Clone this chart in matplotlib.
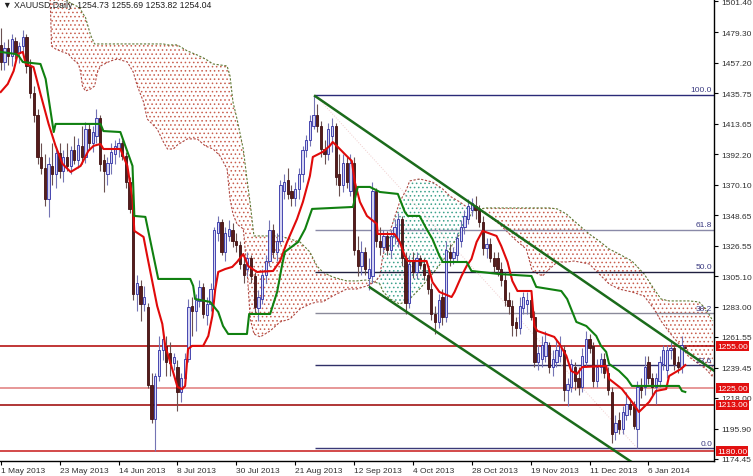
import numpy as np
import matplotlib
matplotlib.use("Agg")
import matplotlib.pyplot as plt

plt.rcParams['font.family'] = ['Liberation Sans', 'DejaVu Sans']
plt.rcParams['hatch.linewidth'] = 0.6

# ---- daily OHLC, one entry per trading day (bar 0 = 1 May 2013) ----
opens = [1470, 1458, 1468, 1462, 1473, 1464, 1469, 1476, 1455, 1436,
         1420, 1390, 1382, 1360, 1384, 1378, 1393, 1380, 1390, 1384,
         1395, 1388, 1398, 1390, 1410, 1400, 1405, 1418, 1388, 1378,
         1386, 1392, 1396, 1400, 1391, 1372, 1353, 1292, 1298, 1285,
         1283, 1227, 1203, 1234, 1252, 1255, 1250, 1243, 1240, 1222,
         1232, 1246, 1284, 1280, 1287, 1297, 1277, 1285, 1296, 1336,
         1344, 1322, 1334, 1338, 1330, 1327, 1314, 1310, 1318, 1305,
         1282, 1289, 1306, 1316, 1338, 1322, 1330, 1366, 1374, 1366,
         1361, 1367, 1378, 1395, 1402, 1412, 1420, 1412, 1396, 1392,
         1405, 1412, 1378, 1370, 1386, 1366, 1386, 1324, 1312, 1322,
         1304, 1305, 1366, 1330, 1326, 1334, 1324, 1334, 1330, 1346,
         1318, 1286, 1316, 1308, 1318, 1314, 1306, 1296, 1278, 1272,
         1290, 1276, 1322, 1318, 1320, 1330, 1340, 1346, 1352, 1355,
         1352, 1344, 1325, 1328, 1318, 1318, 1310, 1302, 1288, 1284,
         1272, 1268, 1282, 1285, 1288, 1276, 1244, 1246, 1248, 1256,
         1240, 1244, 1248, 1252, 1224, 1226, 1240, 1232, 1226, 1244,
         1260, 1255, 1230, 1240, 1246, 1236, 1222, 1194, 1202, 1196,
         1206, 1214, 1212, 1196, 1226, 1226, 1244, 1232, 1226, 1230,
         1242, 1238, 1252, 1254, 1244, 1240, 1254.73]
highs = [1482, 1472, 1474, 1478, 1476, 1472, 1481, 1478, 1460, 1441,
         1424, 1400, 1392, 1390, 1400, 1398, 1400, 1395, 1400, 1398,
         1405, 1404, 1412, 1415, 1414, 1412, 1424, 1420, 1392, 1390,
         1400, 1402, 1404, 1402, 1394, 1376, 1355, 1306, 1302, 1298,
         1286, 1236, 1236, 1262, 1266, 1262, 1258, 1250, 1245, 1236,
         1250, 1289, 1290, 1292, 1302, 1300, 1290, 1300, 1340, 1348,
         1346, 1340, 1345, 1343, 1336, 1330, 1320, 1322, 1320, 1308,
         1295, 1310, 1320, 1345, 1342, 1336, 1374, 1378, 1382, 1370,
         1372, 1382, 1398, 1406, 1420, 1434, 1428, 1416, 1402, 1414,
         1418, 1414, 1392, 1392, 1390, 1392, 1390, 1334, 1330, 1326,
         1318, 1372, 1368, 1340, 1338, 1337, 1338, 1346, 1350, 1348,
         1322, 1320, 1322, 1322, 1320, 1318, 1310, 1300, 1284, 1292,
         1296, 1330, 1328, 1326, 1336, 1345, 1352, 1360, 1361, 1362,
         1356, 1348, 1332, 1332, 1322, 1322, 1315, 1308, 1294, 1288,
         1276, 1290, 1294, 1294, 1290, 1280, 1256, 1262, 1266, 1258,
         1252, 1260, 1262, 1256, 1232, 1246, 1244, 1240, 1254, 1266,
         1264, 1258, 1246, 1250, 1250, 1240, 1226, 1206, 1208, 1212,
         1222, 1218, 1216, 1230, 1232, 1248, 1248, 1236, 1236, 1248,
         1256, 1256, 1258, 1256, 1248, 1262, 1255.69]
lows = [1452, 1452, 1456, 1455, 1460, 1457, 1465, 1450, 1432, 1415,
        1385, 1378, 1355, 1347, 1370, 1368, 1375, 1372, 1380, 1378,
        1385, 1382, 1385, 1386, 1395, 1394, 1400, 1380, 1365, 1370,
        1378, 1385, 1390, 1388, 1368, 1350, 1288, 1280, 1273, 1280,
        1225, 1200, 1180, 1230, 1245, 1234, 1234, 1238, 1209, 1215,
        1228, 1244, 1262, 1266, 1283, 1275, 1270, 1280, 1294, 1330,
        1320, 1316, 1330, 1326, 1322, 1310, 1300, 1305, 1300, 1278,
        1273, 1285, 1300, 1312, 1318, 1316, 1328, 1360, 1360, 1355,
        1355, 1360, 1372, 1390, 1398, 1410, 1408, 1390, 1385, 1388,
        1394, 1370, 1362, 1365, 1368, 1362, 1320, 1305, 1306, 1306,
        1295, 1300, 1326, 1320, 1322, 1320, 1318, 1328, 1326, 1312,
        1278, 1282, 1304, 1303, 1310, 1302, 1292, 1274, 1264, 1268,
        1270, 1272, 1312, 1314, 1316, 1326, 1335, 1342, 1348, 1346,
        1340, 1320, 1318, 1315, 1308, 1305, 1298, 1284, 1278, 1262,
        1262, 1264, 1278, 1278, 1274, 1240, 1238, 1240, 1244, 1236,
        1234, 1240, 1244, 1216, 1212, 1222, 1224, 1220, 1222, 1240,
        1250, 1226, 1226, 1236, 1232, 1220, 1186, 1188, 1192, 1192,
        1202, 1206, 1196, 1182, 1218, 1220, 1228, 1220, 1214, 1226,
        1238, 1232, 1246, 1238, 1236, 1236, 1253.82]
closes = [1458, 1468, 1462, 1474, 1464, 1469, 1476, 1455, 1436, 1420,
          1390, 1382, 1360, 1385, 1378, 1393, 1380, 1390, 1384, 1395,
          1388, 1399, 1390, 1410, 1400, 1408, 1418, 1385, 1380, 1386,
          1394, 1398, 1400, 1391, 1372, 1353, 1292, 1300, 1285, 1290,
          1227, 1203, 1234, 1252, 1260, 1244, 1243, 1247, 1222, 1232,
          1246, 1283, 1280, 1288, 1297, 1278, 1285, 1296, 1338, 1344,
          1322, 1336, 1339, 1330, 1327, 1314, 1306, 1318, 1305, 1283,
          1290, 1306, 1316, 1338, 1322, 1330, 1370, 1372, 1364, 1361,
          1367, 1378, 1395, 1402, 1416, 1420, 1412, 1396, 1392, 1410,
          1412, 1376, 1370, 1386, 1372, 1386, 1324, 1312, 1322, 1310,
          1310, 1366, 1330, 1326, 1334, 1324, 1334, 1340, 1346, 1318,
          1286, 1314, 1308, 1318, 1313, 1306, 1296, 1278, 1272, 1288,
          1276, 1324, 1318, 1322, 1332, 1340, 1348, 1355, 1357, 1352,
          1344, 1325, 1328, 1318, 1312, 1310, 1302, 1288, 1284, 1270,
          1268, 1284, 1290, 1288, 1276, 1244, 1250, 1256, 1258, 1240,
          1246, 1252, 1256, 1224, 1228, 1242, 1230, 1226, 1248, 1260,
          1254, 1230, 1240, 1246, 1236, 1224, 1192, 1200, 1196, 1208,
          1214, 1210, 1198, 1226, 1224, 1240, 1232, 1226, 1232, 1244,
          1252, 1252, 1254, 1242, 1240, 1256, 1254.04]

# ---- Ichimoku lines (bar, price) ----
tenkan_x = [0, 1.9, 3.5, 4.6, 6.0, 6.8, 8.9, 10.8, 13.0, 14.9, 16.8, 19.0, 21.7, 23.8,
            25.2, 27.1, 27.9, 32.5, 34.4, 35.8, 36.3, 38.8, 39.8, 42.5, 43.9, 44.7,
            46.6, 48.0, 49.3, 50.1, 50.9, 52.0, 55.0, 56.4, 57.5, 58.3, 59.1, 61.0,
            62.9, 64.2, 65.9, 67.2, 69.6, 74.0, 75.9, 77.8, 80.5, 82.1, 84.0, 84.8,
            87.5, 89.4, 90.2, 91.6, 94.0, 95.4, 96.2, 97.6, 99.5, 102.2, 102.4, 107.0,
            108.4, 109.8, 110.6, 115.7, 116.5, 117.3, 119.2, 122.5, 123.3, 125.2,
            126.6, 127.9, 129.3, 130.9, 134.7, 136.0, 137.7, 139.0, 140.4, 144.2,
            145.0, 145.8, 150.4, 151.8, 153.7, 155.0, 156.6, 158.0, 164.5, 165.3,
            168.8, 171.5, 173.4, 176.2, 178.0, 180.8, 181.6, 184.8, 186.0]
tenkan_y = [1436.5, 1442.2, 1451.5, 1463.6, 1465.1, 1456.5, 1454.3, 1435.1, 1413.7,
            1398.0, 1385.1, 1379.4, 1383.7, 1394.4, 1398.0, 1399.4, 1395.8, 1395.8,
            1383.7, 1360.1, 1337.3, 1333.0, 1319.4, 1283.7, 1270.9, 1255.2, 1238.7,
            1225.9, 1224.4, 1226.6, 1253.0, 1255.2, 1255.2, 1262.3, 1276.6, 1295.8,
            1308.0, 1310.1, 1311.6, 1315.1, 1320.8, 1312.3, 1308.0, 1308.7, 1315.8,
            1329.4, 1345.8, 1358.0, 1376.5, 1390.1, 1393.7, 1398.0, 1400.8, 1397.2,
            1390.8, 1387.2, 1372.2, 1358.0, 1348.0, 1342.3, 1335.1, 1335.1, 1329.4,
            1319.4, 1315.8, 1315.8, 1308.7, 1300.8, 1293.7, 1290.1, 1293.7, 1305.1,
            1312.3, 1317.3, 1329.4, 1337.3, 1333.7, 1326.5, 1315.1, 1301.6, 1294.4,
            1294.4, 1269.4, 1265.9, 1261.6, 1256.6, 1248.0, 1237.3, 1235.2, 1240.1,
            1240.9, 1231.6, 1224.4, 1215.2, 1208.0, 1215.2, 1223.0, 1224.4, 1233.7,
            1238.7, 1241.5]
kijun_x = [0, 4.1, 4.9, 6.0, 10.8, 12.2, 14.4, 14.9, 27.1, 27.9, 32.5, 35.8, 36.3,
           39.3, 42.8, 51.5, 52.3, 52.8, 56.9, 59.1, 60.4, 61.8, 66.9, 67.5, 73.2,
           75.1, 76.4, 77.2, 80.8, 82.7, 84.6, 95.7, 97.0, 100.3, 103.0, 107.9, 109.8,
           110.6, 113.8, 115.7, 117.3, 119.2, 120.1, 126.6, 127.9, 135.5, 144.2, 145.5,
           152.3, 153.9, 156.4, 159.1, 161.8, 163.1, 164.5, 165.3, 168.0, 170.2, 171.5,
           184.3, 185.1, 186.0]
kijun_y = [1465.1, 1463.6, 1462.2, 1457.9, 1456.5, 1445.8, 1407.9, 1413.7, 1413.7,
           1408.6, 1407.9, 1383.7, 1348.0, 1347.3, 1303.0, 1303.0, 1298.0, 1288.7,
           1286.6, 1279.4, 1269.4, 1263.7, 1263.7, 1278.0, 1278.0, 1293.7, 1312.3,
           1322.3, 1329.4, 1338.7, 1353.0, 1354.4, 1368.7, 1368.7, 1365.1, 1363.7,
           1350.8, 1348.0, 1348.0, 1338.7, 1331.5, 1319.4, 1315.1, 1315.1, 1308.7,
           1306.5, 1305.1, 1297.3, 1294.4, 1288.7, 1272.3, 1269.4, 1262.3, 1255.2,
           1250.9, 1242.3, 1237.3, 1231.6, 1226.6, 1226.6, 1223.0, 1222.3]

# ---- Ichimoku cloud (Senkou span A / B), shared bar positions ----
cloud_x = [13.3, 13.8, 14.9, 16.8, 18.4, 19.5, 21.1, 21.7, 22.2, 23.0,
           24.4, 25.5, 26.3, 27.1, 29.8, 31.7, 34.4, 36.0, 37.1, 38.8,
           39.8, 42.5, 44.2, 45.3, 46.9, 48.0, 50.7, 53.4, 55.6, 57.7,
           59.6, 61.5, 62.3, 63.1, 64.2, 65.9, 66.9, 67.8, 68.8, 70.5,
           73.2, 75.9, 78.6, 81.3, 84.0, 85.9, 87.5, 90.2, 94.0, 96.7,
           99.5, 101.6, 103.0, 103.8, 105.7, 108.4, 110.3, 111.1, 113.8, 117.3,
           120.1, 122.0, 124.7, 126.6, 128.2, 130.1, 132.0, 135.5, 139.6, 142.8,
           144.4, 147.2, 149.1, 151.2, 153.7, 155.8, 159.9, 162.6, 165.3, 168.0,
           171.5, 174.8, 177.5, 179.4, 181.6, 184.3, 187.0, 189.7, 191.6, 193.5]
span_a = [1517.2, 1515.8, 1512.9, 1506.5, 1500.8, 1499.3, 1497.2, 1495.8, 1492.9, 1490.0,
          1477.2, 1470.8, 1470.8, 1470.8, 1470.8, 1470.8, 1470.8, 1470.8, 1470.8, 1470.8,
          1470.8, 1470.8, 1470.8, 1470.1, 1470.1, 1470.1, 1465.8, 1462.9, 1460.1, 1456.5,
          1455.8, 1455.1, 1447.9, 1429.4, 1417.2, 1395.8, 1374.4, 1356.5, 1333.7, 1333.7,
          1333.7, 1333.7, 1331.5, 1329.4, 1322.3, 1312.3, 1307.9, 1304.4, 1301.6, 1301.6,
          1302.3, 1300.8, 1299.4, 1294.4, 1288.7, 1285.1, 1287.3, 1288.7, 1295.8, 1306.6,
          1315.8, 1324.4, 1335.1, 1344.4, 1350.8, 1353.0, 1353.7, 1353.7, 1353.7, 1353.7,
          1353.7, 1353.7, 1353.7, 1353.0, 1349.4, 1344.4, 1335.1, 1330.1, 1324.4, 1320.8,
          1315.8, 1306.6, 1295.8, 1288.7, 1287.3, 1287.3, 1287.3, 1286.6, 1281.6, 1273.0]
span_b = [1515.8, 1469.3, 1467.2, 1465.1, 1463.6, 1460.1, 1456.5, 1450.8, 1440.8, 1437.2,
          1438.6, 1440.8, 1450.8, 1455.1, 1458.6, 1460.1, 1457.9, 1450.8, 1440.8, 1429.4,
          1417.2, 1410.1, 1400.8, 1395.8, 1395.8, 1398.7, 1403.0, 1403.0, 1397.9, 1395.8,
          1390.8, 1381.5, 1360.1, 1349.4, 1342.2, 1338.7, 1310.1, 1274.4, 1263.7, 1261.6,
          1265.9, 1272.3, 1274.4, 1281.6, 1285.1, 1286.6, 1286.6, 1290.8, 1295.8, 1295.8,
          1298.0, 1300.8, 1305.1, 1319.4, 1336.5, 1358.0, 1367.2, 1373.0, 1374.4, 1372.2,
          1367.2, 1362.2, 1358.0, 1354.4, 1353.0, 1352.2, 1349.4, 1342.2, 1331.5, 1324.4,
          1308.7, 1305.1, 1310.1, 1315.1, 1315.1, 1315.8, 1313.7, 1306.6, 1299.4, 1295.8,
          1293.7, 1290.8, 1281.6, 1273.0, 1265.1, 1256.6, 1247.3, 1242.3, 1238.7, 1233.0]

# ---- drawn objects ----
sr_levels = [1255.0, 1225.0, 1213.0, 1180.0]
fib_ratios = [100.0, 61.8, 50.0, 38.2, 23.6, 0.0]
fib_high, fib_low = 1434.5, 1182.0
fib_start, fib_end = 85.4, 173.0
upper_chan_x, upper_chan_y = [85.4, 193.8], [1433.6, 1237.5]
lower_chan_x, lower_chan_y = [100.3, 175.0], [1297.0, 1166.0]

ytick_vals = [1501.40, 1479.30, 1457.20, 1435.75, 1413.65, 1392.20, 1370.10, 1348.65,
              1326.55, 1305.10, 1283.00, 1261.55, 1239.45, 1218.00, 1195.90, 1174.45]
xtick_bars = [0, 16, 32, 48, 64, 80, 96, 112, 128, 144, 160, 176]
xtick_labels = ["1 May 2013", "23 May 2013", "14 Jun 2013", "8 Jul 2013", "30 Jul 2013",
                "21 Aug 2013", "12 Sep 2013", "4 Oct 2013", "28 Oct 2013", "19 Nov 2013",
                "11 Dec 2013", "6 Jan 2014"]


fig = plt.figure(figsize=(7.53, 4.77), dpi=100)
ax = fig.add_axes([0, 15 / 477, 714 / 753, 462 / 477])
ax.set_xlim(-0.2, 193.8)
ax.set_ylim(1173.0, 1502.9)

# cloud
cx, a, b = np.array(cloud_x), np.array(span_a), np.array(span_b)
ax.fill_between(cx, a, b, where=a >= b, interpolate=True, facecolor='none',
                edgecolor='#c85e4e', hatch='....', linewidth=0, zorder=1)
ax.fill_between(cx, a, b, where=a < b, interpolate=True, facecolor='none',
                edgecolor='#3ea28c', hatch='....', linewidth=0, zorder=1)
ax.plot(cx, a, color='#5f7a35', lw=0.8, ls=(0, (2, 1.5)), zorder=2)
ax.plot(cx, b, color='#b04a44', lw=0.8, ls=(0, (2, 1.5)), zorder=2)

# fibonacci retracement
fib_colors = ['#2a2a78', '#8a8aa8', '#202040', '#8a8a9a', '#303068', '#3a3a78']
for r, col in zip(fib_ratios, fib_colors):
    lvl = fib_low + r / 100 * (fib_high - fib_low)
    ax.hlines(lvl, fib_start, 193.8, color=col, lw=1.0, zorder=2)
    ax.text(193.3, lvl + 1.0, f"{r:.1f}", ha='right', va='bottom', fontsize=6,
            color='#3a3a80', zorder=6)
ax.plot([fib_start, fib_end], [fib_high, fib_low], color='#f0cccc', lw=0.7, ls=':', zorder=2)

# support / resistance
sr_colors = ['#b00000', '#e07a7a', '#9a0000', '#c81818']
for lvl, col in zip(sr_levels, sr_colors):
    ax.axhline(lvl, color=col, lw=1.1, zorder=3)

# candles
bars = np.arange(len(closes))
o, h, l, c = (np.array(v, dtype=float) for v in (opens, highs, lows, closes))
up = c >= o
ax.vlines(bars[up], l[up], h[up], color='#7474b4', lw=0.8, zorder=4)
ax.vlines(bars[~up], l[~up], h[~up], color='#6a5050', lw=0.8, zorder=4)
ax.bar(bars[up], np.maximum(c - o, 0.4)[up], bottom=o[up], width=0.62,
       facecolor='#d6d6f2', edgecolor='#2c2ca4', lw=0.6, zorder=5)
ax.bar(bars[~up], np.maximum(o - c, 0.4)[~up], bottom=c[~up], width=0.62,
       facecolor='#561c1c', edgecolor='#401010', lw=0.6, zorder=5)

# tenkan / kijun
ax.plot(tenkan_x, tenkan_y, color='#e00a0a', lw=1.5, zorder=6)
ax.plot(kijun_x, kijun_y, color='#108010', lw=1.5, zorder=6)

# channel
ax.plot(upper_chan_x, upper_chan_y, color='#1b6b1b', lw=1.8, zorder=7)
ax.plot(lower_chan_x, lower_chan_y, color='#1b6b1b', lw=1.8, zorder=7)

# axes styling
for side in ('left', 'top'):
    ax.spines[side].set_visible(False)
for side in ('right', 'bottom'):
    ax.spines[side].set_color('black')
    ax.spines[side].set_linewidth(1.0)
ax.yaxis.tick_right()
ax.set_yticks(ytick_vals)
ax.set_yticklabels([f"{v:.2f}" for v in ytick_vals])
ax.tick_params(axis='y', direction='out', length=3, width=0.8, labelsize=6,
               labelcolor='#303030', pad=2)
ax.set_xticks(xtick_bars)
ax.set_xticklabels(xtick_labels)
ax.tick_params(axis='x', direction='out', length=3, width=0.8, labelsize=6,
               labelcolor='#303030', pad=1)
for lbl in ax.get_xticklabels():
    lbl.set_ha('left')

# price labels on the right axis
ytrans = ax.get_yaxis_transform()
for lvl in sr_levels:
    ax.text(1.004, lvl, f"{lvl:.2f}", transform=ytrans, ha='left', va='center',
            fontsize=6, color='white', zorder=10, clip_on=False,
            bbox=dict(boxstyle='square,pad=0.15', facecolor='#e21010', edgecolor='none'))

ax.text(0.004, 0.997, "\u25bc XAUUSD,Daily  1254.73 1255.69 1253.82 1254.04",
        transform=ax.transAxes, ha='left', va='top', fontsize=6.3, color='#202020', zorder=10)

fig.savefig("out.png", dpi=100, facecolor='white')
